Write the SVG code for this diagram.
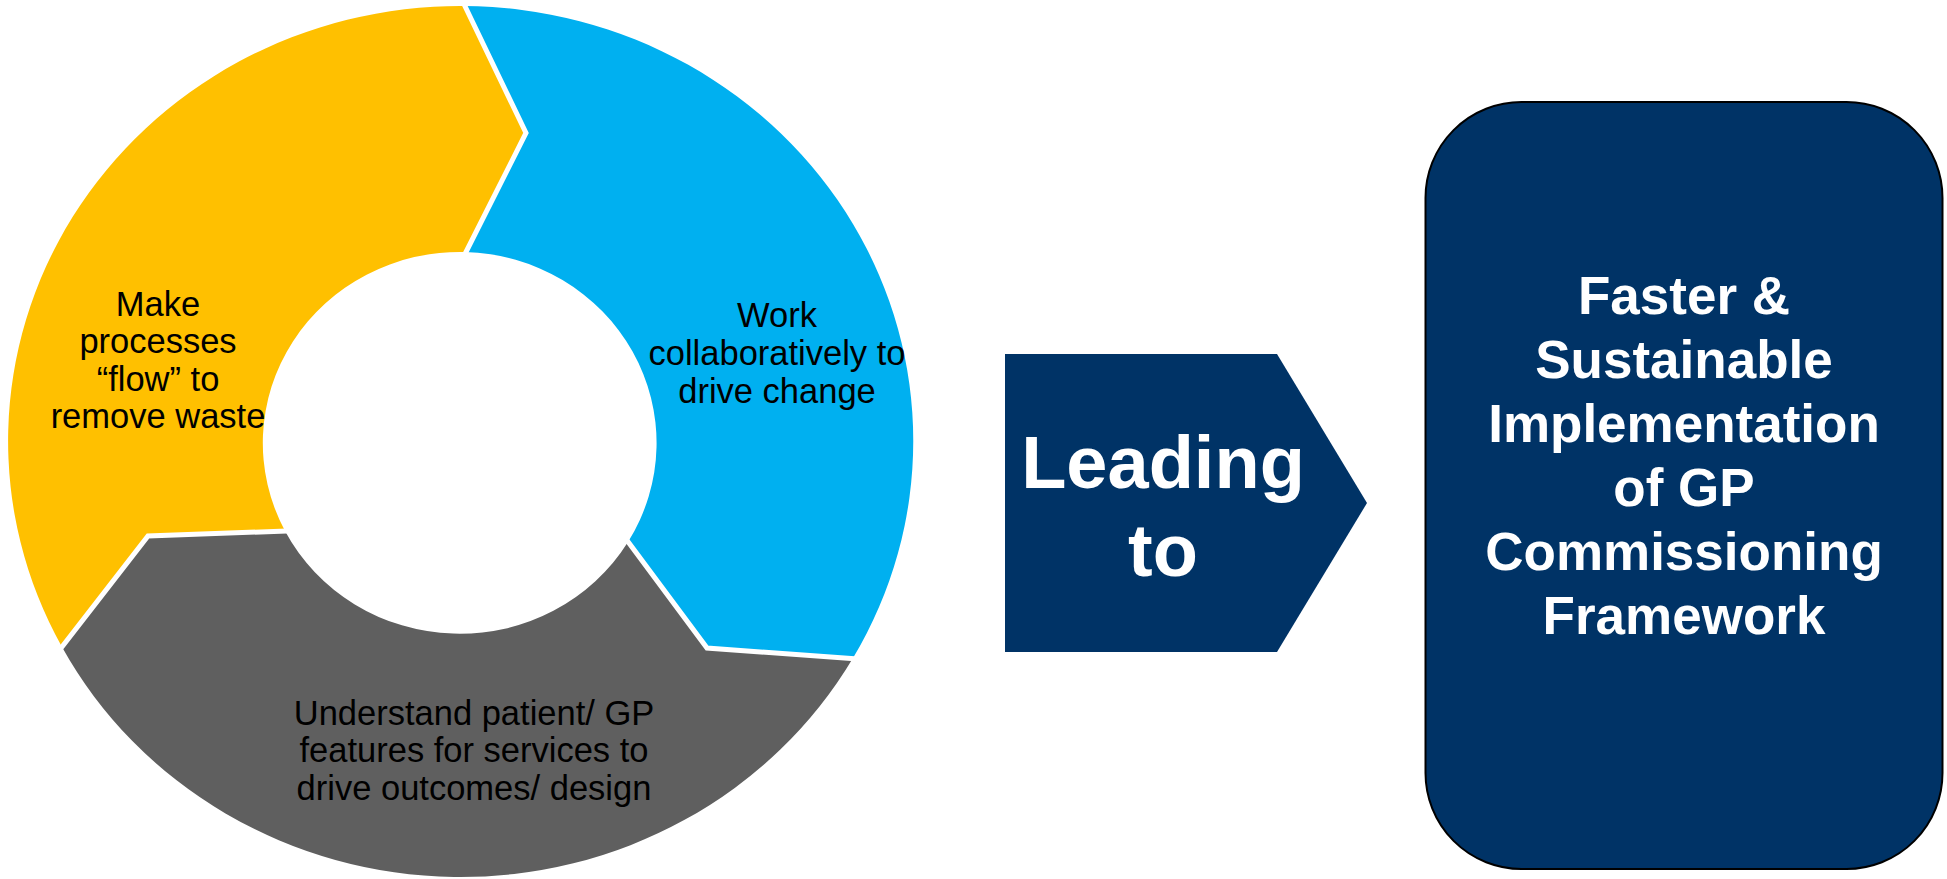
<svg xmlns="http://www.w3.org/2000/svg" width="1947" height="879" viewBox="0 0 1947 879">
<style>
.seg-text{font-family:"Liberation Sans",Arial,sans-serif;font-size:34.5px;fill:#000;text-anchor:middle}
.bold-white{font-family:"Liberation Sans",Arial,sans-serif;font-weight:bold;fill:#fff;text-anchor:middle}
.gap{fill:none;stroke:#fff;stroke-width:5;stroke-linejoin:miter}
</style>
<rect width="1947" height="879" fill="#fff"/>
<g id="seg-flow">
<path d="M 62,647 A 452 435 0 0 1 463,6 L 526,133 L 465,252 A 197 191 0 0 0 285,531 L 148,536 Z" fill="#FFC000"/>
<text class="seg-text" x="158" y="316">Make</text>
<text class="seg-text" x="158" y="353">processes</text>
<text class="seg-text" x="158" y="391">“flow” to</text>
<text class="seg-text" x="158" y="428">remove waste</text>
</g>
<g id="seg-collab">
<path d="M 463,6 A 452 435 0 0 1 853,658 L 707,648 L 628,542 A 197 191 0 0 0 465,252 L 526,133 Z" fill="#00B0F0"/>
<text class="seg-text" x="777" y="327">Work</text>
<text class="seg-text" x="777" y="365">collaboratively to</text>
<text class="seg-text" x="777" y="403">drive change</text>
</g>
<g id="seg-understand">
<path d="M 853,658 A 452 435 0 0 1 62,647 L 148,536 L 285,531 A 197 191 0 0 0 628,542 L 707,648 Z" fill="#5F5F5F"/>
<text class="seg-text" x="474" y="725">Understand patient/ GP</text>
<text class="seg-text" x="474" y="762">features for services to</text>
<text class="seg-text" x="474" y="800">drive outcomes/ design</text>
</g>
<g id="connectors">
<polyline class="gap" points="462,0 526,133 465,254"/>
<polyline class="gap" points="626,539 707,648 858,659"/>
<polyline class="gap" points="287,531 148,536 58,652"/>
</g>
<g id="leading-to">
<polygon points="1005,354 1277,354 1367,503 1277,652 1005,652" fill="#003366"/>
<text class="bold-white" x="1163" y="488" font-size="74">Leading</text>
<text class="bold-white" x="1163" y="576" font-size="74">to</text>
</g>
<g id="outcome">
<rect x="1425.5" y="102" width="517" height="767" rx="96" ry="96" fill="#003366" stroke="#000" stroke-width="2"/>
<text class="bold-white" x="1684" y="314" font-size="53">Faster &amp;</text>
<text class="bold-white" x="1684" y="378" font-size="53">Sustainable</text>
<text class="bold-white" x="1684" y="442" font-size="53">Implementation</text>
<text class="bold-white" x="1684" y="506" font-size="53">of GP</text>
<text class="bold-white" x="1684" y="570" font-size="53">Commissioning</text>
<text class="bold-white" x="1684" y="634" font-size="53">Framework</text>
</g>
</svg>
